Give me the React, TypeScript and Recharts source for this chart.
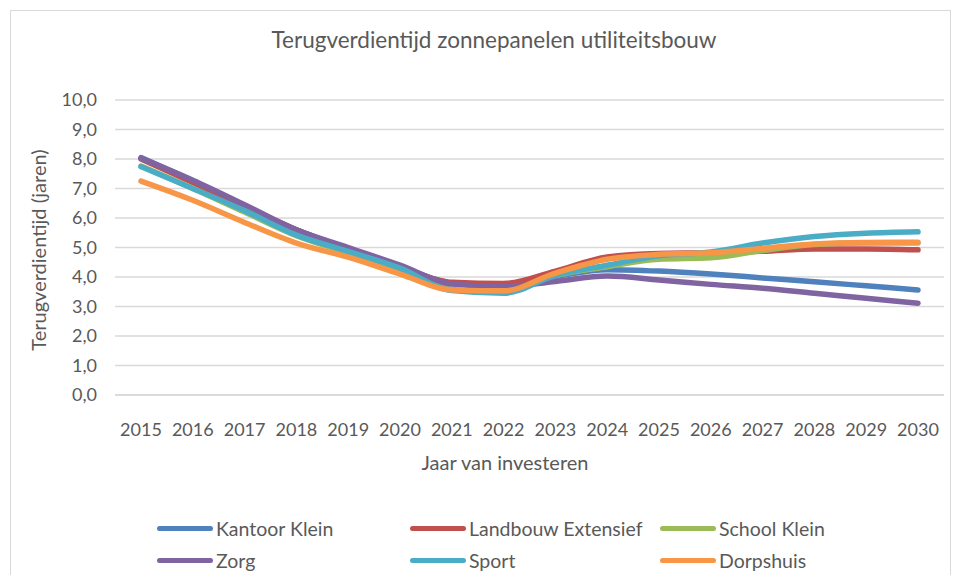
import React from 'react';
import { LineChart, Line, XAxis, YAxis, CartesianGrid } from 'recharts';

const years = ['2015', '2016', '2017', '2018', '2019', '2020', '2021', '2022', '2023', '2024', '2025', '2026', '2027', '2028', '2029', '2030'];

const kantoorKlein = [8.05, 7.25, 6.4, 5.6, 4.95, 4.35, 3.8, 3.72, 4.02, 4.25, 4.2, 4.1, 3.97, 3.84, 3.7, 3.56];
const landbouwExtensief = [8.0, 7.2, 6.4, 5.6, 4.95, 4.35, 3.82, 3.78, 4.2, 4.68, 4.8, 4.82, 4.87, 4.95, 4.95, 4.92];
const schoolKlein = [7.76, 7.0, 6.2, 5.4, 4.82, 4.25, 3.58, 3.48, 4.05, 4.35, 4.6, 4.65, 4.9, 5.1, 5.15, 5.15];
const zorg = [8.03, 7.28, 6.45, 5.6, 5.0, 4.4, 3.76, 3.67, 3.85, 4.03, 3.9, 3.75, 3.62, 3.45, 3.28, 3.11];
const sport = [7.74, 7.0, 6.25, 5.42, 4.87, 4.3, 3.54, 3.45, 4.05, 4.4, 4.72, 4.85, 5.15, 5.37, 5.48, 5.53];
const dorpshuis = [7.25, 6.6, 5.85, 5.15, 4.67, 4.1, 3.56, 3.53, 4.13, 4.6, 4.77, 4.82, 4.97, 5.12, 5.17, 5.18];

const yTicks = [0, 1, 2, 3, 4, 5, 6, 7, 8, 9, 10];

const series = [
  { key: 'kantoor', name: 'Kantoor Klein', color: '#4F81BD', values: kantoorKlein },
  { key: 'landbouw', name: 'Landbouw Extensief', color: '#C0504D', values: landbouwExtensief },
  { key: 'school', name: 'School Klein', color: '#9BBB59', values: schoolKlein },
  { key: 'zorg', name: 'Zorg', color: '#8064A2', values: zorg },
  { key: 'sport', name: 'Sport', color: '#4BACC6', values: sport },
  { key: 'dorpshuis', name: 'Dorpshuis', color: '#F79646', values: dorpshuis },
];

const data = years.map((year, i) => {
  const row: Record<string, string | number> = { year };
  series.forEach((s) => {
    row[s.key] = s.values[i];
  });
  return row;
});

const FONT = 'Lato, "Open Sans", sans-serif';
const TEXT = '#595959';

// legend drawn outside the chart so it doesn't shrink the plot area
const ChartLegend = () => (
  <div
    style={{
      position: 'absolute',
      left: 157,
      top: 516,
      display: 'grid',
      gridTemplateColumns: '253px 250px 250px',
      rowGap: 8,
      fontFamily: FONT,
      fontSize: 19.5,
      color: TEXT,
    }}
  >
    {series.map((s) => (
      <div key={s.key} style={{ display: 'flex', alignItems: 'center', height: 24 }}>
        <span
          style={{
            display: 'inline-block',
            width: 56,
            height: 5,
            borderRadius: 3,
            background: s.color,
            marginRight: 3,
          }}
        />
        <span>{s.name}</span>
      </div>
    ))}
  </div>
);

export default function App() {
  return (
    <div style={{ position: 'absolute', left: 0, top: 0, width: 955, height: 575, background: '#fff', overflow: 'hidden' }}>
      <div
        style={{
          position: 'absolute',
          left: 10,
          top: 10,
          width: 939,
          height: 620,
          border: '1px solid #d9d9d9',
        }}
      />
      <div
        style={{
          position: 'absolute',
          left: 0,
          top: 26,
          width: 988,
          textAlign: 'center',
          fontFamily: FONT,
          fontSize: 22.5,
          color: TEXT,
        }}
      >
        Terugverdientijd zonnepanelen utiliteitsbouw
      </div>
      <div
        style={{
          position: 'absolute',
          left: 505 - 150,
          top: 450,
          width: 300,
          textAlign: 'center',
          fontFamily: FONT,
          fontSize: 20,
          color: TEXT,
        }}
      >
        Jaar van investeren
      </div>
      <div
        style={{
          position: 'absolute',
          left: 38 - 150,
          top: 250 - 12,
          width: 300,
          height: 24,
          lineHeight: '24px',
          textAlign: 'center',
          transform: 'rotate(-90deg)',
          fontFamily: FONT,
          fontSize: 20,
          color: TEXT,
        }}
      >
        Terugverdientijd (jaren)
      </div>
      <div style={{ position: 'absolute', left: 0, top: 0 }}>
        <LineChart width={955} height={575} data={data} margin={{ top: 100, right: 11, bottom: 150, left: 55 }}>
          <CartesianGrid vertical={false} stroke="#d9d9d9" strokeWidth={1.3} />
          <XAxis
            dataKey="year"
            padding={{ left: 26, right: 26 }}
            axisLine={{ stroke: '#d9d9d9', strokeWidth: 1.3 }}
            tickLine={false}
            tickSize={0}
            tickMargin={28}
            height={30}
            interval={0}
            tick={{ fill: TEXT, fontSize: 18, fontFamily: FONT }}
          />
          <YAxis
            domain={[0, 10]}
            ticks={yTicks}
            interval={0}
            width={60}
            axisLine={false}
            tickLine={false}
            tickSize={0}
            tickMargin={18}
            tickFormatter={(v: number) => v.toFixed(1).replace('.', ',')}
            tick={{ fill: TEXT, fontSize: 18, fontFamily: FONT }}
          />
          {series.map((s) => (
            <Line
              key={s.key}
              type="monotone"
              dataKey={s.key}
              name={s.name}
              stroke={s.color}
              strokeWidth={5.5}
              strokeLinecap="round"
              strokeLinejoin="round"
              dot={false}
              activeDot={false}
              isAnimationActive={false}
            />
          ))}
        </LineChart>
      </div>
      <ChartLegend />
    </div>
  );
}
